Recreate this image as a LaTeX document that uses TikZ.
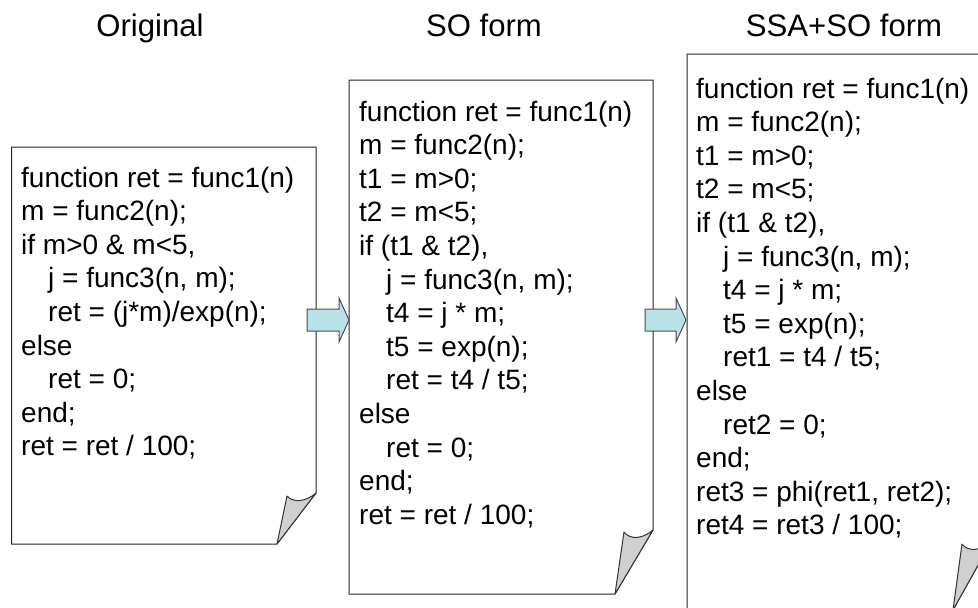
\documentclass[tikz,border=0pt]{standalone}
\usepackage{fontspec}
\setmainfont{Liberation Sans}
\definecolor{arrowfill}{RGB}{185,225,232}
\definecolor{curlfill}{RGB}{208,208,208}
\newcommand{\ind}{\hspace*{27pt}}
\begin{document}
\begin{tikzpicture}[x=1pt,y=-1pt,
  code/.style={anchor=base west, inner sep=0pt, font=\fontsize{28}{33.6}\selectfont},
  ttl/.style={anchor=base, inner sep=0pt, font=\fontsize{31.1}{37}\selectfont},
  page/.style={draw=black!85, line width=1pt, fill=white, line join=miter},
  curl/.style={draw=black!80, line width=1pt, fill=curlfill, line join=round},
  bigarrow/.style={draw=black!70, line width=1pt, fill=arrowfill}]
\useasboundingbox (0,0) rectangle (978,608);
\clip (0,0) rectangle (978,608);

% titles
\node[ttl] (t1) at (150,36) {Original};
\node[ttl] (t2) at (484,36) {SO form};
\node[ttl] (t3) at (844,36) {SSA+SO form};

% page 1
\draw[page] (11.5,147) -- (316,147) -- (316,493) -- (277,544) -- (11.5,544) -- cycle;
\draw[curl] (287,496) .. controls (293,503) and (306,502) .. (316,493) -- (277,544) -- cycle;
% page 2
\draw[page] (349,80) -- (653,80) -- (653,530) -- (615,594) -- (349,594) -- cycle;
\draw[curl] (624,532) .. controls (630,540) and (643,539) .. (653,530) -- (615,594) -- cycle;
% page 3
\draw[page] (687,54) -- (991,54) -- (991,542) -- (953,610) -- (687,610) -- cycle;
\draw[curl] (962,544) .. controls (968,552) and (981,551) .. (991,542) -- (953,610) -- cycle;

% arrows
\draw[bigarrow] (307,309) -- (339,309) -- (339,298) -- (349,320) -- (339,342) -- (339,331) -- (307,331) -- cycle;
\draw[bigarrow] (645,309) -- (676,309) -- (676,298) -- (686,320) -- (676,342) -- (676,331) -- (645,331) -- cycle;

% code, page 1
\foreach \t [count=\i from 0] in {
  {function ret = func1(n)},
  {m = func2(n);},
  {if m>0 \& m<5,},
  {\ind j = func3(n, m);},
  {\ind ret = (j*m)/exp(n);},
  {else},
  {\ind ret = 0;},
  {end;},
  {ret = ret / 100;}}
  \node[code] (a\i) at (21,{187+33.6*\i}) {\t};

% code, page 2
\foreach \t [count=\i from 0] in {
  {function ret = func1(n)},
  {m = func2(n);},
  {t1 = m>0;},
  {t2 = m<5;},
  {if (t1 \& t2),},
  {\ind j = func3(n, m);},
  {\ind t4 = j * m;},
  {\ind t5 = exp(n);},
  {\ind ret = t4 / t5;},
  {else},
  {\ind ret = 0;},
  {end;},
  {ret = ret / 100;}}
  \node[code] (b\i) at (359,{121+33.6*\i}) {\t};

% code, page 3
\foreach \t [count=\i from 0] in {
  {function ret = func1(n)},
  {m = func2(n);},
  {t1 = m>0;},
  {t2 = m<5;},
  {if (t1 \& t2),},
  {\ind j = func3(n, m);},
  {\ind t4 = j * m;},
  {\ind t5 = exp(n);},
  {\ind ret1 = t4 / t5;},
  {else},
  {\ind ret2 = 0;},
  {end;},
  {ret3 = phi(ret1, ret2);},
  {ret4 = ret3 / 100;}}
  \node[code] (c\i) at (696,{98+33.6*\i}) {\t};
\end{tikzpicture}
\end{document}
